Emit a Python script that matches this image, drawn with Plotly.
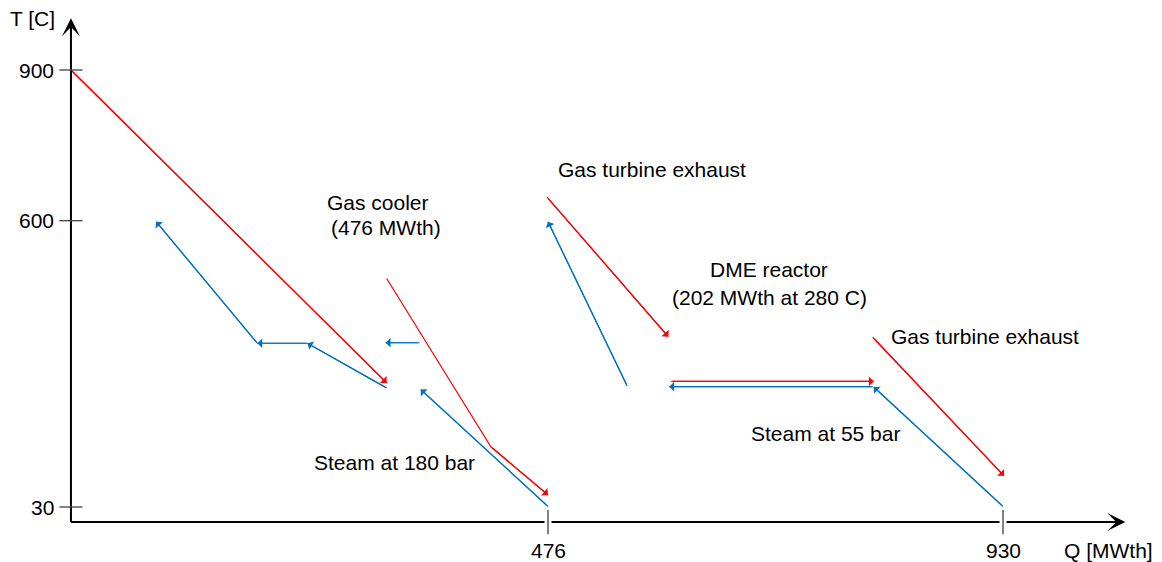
import plotly.graph_objects as go

# ---------------- data (Q in MWth, T in C) ----------------
t_tick_vals = [30, 600, 900]
t_tick_text = ["30", "600", "900"]
q_tick_vals = [476, 930]
q_tick_text = ["476", "930"]

# Gas cooler (hot side)
gas_cooler_a_q = [0, 315]
gas_cooler_a_t = [900, 277]
gas_cooler_b_q = [315, 419, 476]
gas_cooler_b_t = [485, 150, 54]

# Steam at 180 bar (cold side)
steam180_water_q = [476, 349]
steam180_water_t = [31, 264]
steam180_evap_q = [348, 314]
steam180_evap_t = [357, 357]
steam180_sh_q = [315, 236, 186, 85]
steam180_sh_t = [267, 356, 356, 598]

# Gas turbine exhaust 1
gte1_q = [475, 596]
gte1_t = [647, 369]
# Steam superheat (middle)
steam_mid_q = [555, 476]
steam_mid_t = [271, 598]
# DME reactor
dme_q = [599, 801]
dme_t = [280, 280]
# Steam at 55 bar evaporation
steam55_evap_q = [800, 597]
steam55_evap_t = [269.5, 269.5]
# Steam at 55 bar water
steam55_water_q = [930, 801]
steam55_water_t = [31, 269]
# Gas turbine exhaust 2
gte2_q = [800, 931]
gte2_t = [368, 92]

RED = "#FF0000"
BLUE = "#0070C0"
FONT = "Liberation Sans, Arial, sans-serif"

# (q, t, color, segments-with-arrowheads)
streams = [
    (gas_cooler_a_q, gas_cooler_a_t, RED, [1]),
    (gas_cooler_b_q, gas_cooler_b_t, RED, [2]),
    (steam180_water_q, steam180_water_t, BLUE, [1]),
    (steam180_evap_q, steam180_evap_t, BLUE, [1]),
    (steam180_sh_q, steam180_sh_t, BLUE, [1, 2, 3]),
    (gte1_q, gte1_t, RED, [1]),
    (steam_mid_q, steam_mid_t, BLUE, [1]),
    (dme_q, dme_t, RED, [1]),
    (steam55_evap_q, steam55_evap_t, BLUE, [1]),
    (steam55_water_q, steam55_water_t, BLUE, [1]),
    (gte2_q, gte2_t, RED, [1]),
]

fig = go.Figure()
annotations = []
shapes = []

for q, t, col, heads in streams:
    fig.add_trace(go.Scatter(x=q, y=t, mode="lines",
                             line=dict(color=col, width=1.2),
                             hoverinfo="skip", showlegend=False))
    for i in heads:
        annotations.append(dict(x=q[i], y=t[i], ax=q[i - 1], ay=t[i - 1],
                                xref="x", yref="y", axref="x", ayref="y",
                                text="", showarrow=True, arrowhead=1,
                                arrowsize=1.35, arrowwidth=1.2, arrowcolor=col,
                                standoff=0))

# ---------------- axes drawn by hand ----------------
Q_END = 1052
T_END = 1003
shapes.append(dict(type="line", x0=0, y0=0, x1=Q_END - 8, y1=0,
                   line=dict(color="black", width=2), layer="above"))
shapes.append(dict(type="line", x0=0, y0=0, x1=0, y1=T_END - 12,
                   line=dict(color="black", width=2), layer="above"))
annotations.append(dict(x=Q_END, y=0, ax=Q_END - 20, ay=0, xref="x", yref="y",
                        axref="x", ayref="y", text="", showarrow=True,
                        arrowhead=3, arrowsize=1.5, arrowwidth=2,
                        arrowcolor="black", standoff=0))
annotations.append(dict(x=0, y=T_END, ax=0, ay=T_END - 40, xref="x", yref="y",
                        axref="x", ayref="y", text="", showarrow=True,
                        arrowhead=3, arrowsize=1.5, arrowwidth=2,
                        arrowcolor="black", standoff=0))

# y ticks (crossing the axis)
for v, s in zip(t_tick_vals, t_tick_text):
    shapes.append(dict(type="line", x0=-11.5, x1=11.5, y0=v, y1=v,
                       line=dict(color="#404040", width=1.3), layer="above"))
    annotations.append(dict(x=-15, y=v, xref="x", yref="y", text=s,
                            showarrow=False, xanchor="right", yanchor="middle",
                            font=dict(family=FONT, size=21, color="black")))

# x ticks (with a small gap in the axis line)
for v, s in zip(q_tick_vals, q_tick_text):
    shapes.append(dict(type="line", x0=v - 3.5, x1=v + 3.5, y0=0, y1=0,
                       line=dict(color="white", width=4), layer="above"))
    shapes.append(dict(type="line", x0=v, x1=v, y0=24, y1=-24,
                       line=dict(color="#404040", width=1.3), layer="above"))
    annotations.append(dict(x=v, y=-56, xref="x", yref="y", text=s,
                            showarrow=False, xanchor="center", yanchor="middle",
                            font=dict(family=FONT, size=21, color="black")))

labels = [
    ("T [C]", -38, 1003),
    ("Q [MWth]", 1035, -56),
    ("Gas cooler", 306, 637),
    ("(476 MWth)", 314, 587),
    ("Steam at 180 bar", 323, 118),
    ("Gas turbine exhaust", 580, 701),
    ("DME reactor", 697, 502),
    ("(202 MWth at 280 C)", 697, 448),
    ("Gas turbine exhaust", 912, 370),
    ("Steam at 55 bar", 753, 177),
]
for s, x, y in labels:
    annotations.append(dict(x=x, y=y, xref="x", yref="y", text=s,
                            showarrow=False, xanchor="center", yanchor="middle",
                            font=dict(family=FONT, size=21, color="black")))

fig.update_layout(
    width=1162, height=562,
    margin=dict(l=0, r=0, t=0, b=0),
    plot_bgcolor="white", paper_bgcolor="white",
    showlegend=False,
    xaxis=dict(range=[-70.8, 1088.65], visible=False, fixedrange=True),
    yaxis=dict(range=[-79.49, 1039.36], visible=False, fixedrange=True),
    annotations=annotations,
    shapes=shapes,
)

fig.write_html("out.html", config={"displayModeBar": False})
